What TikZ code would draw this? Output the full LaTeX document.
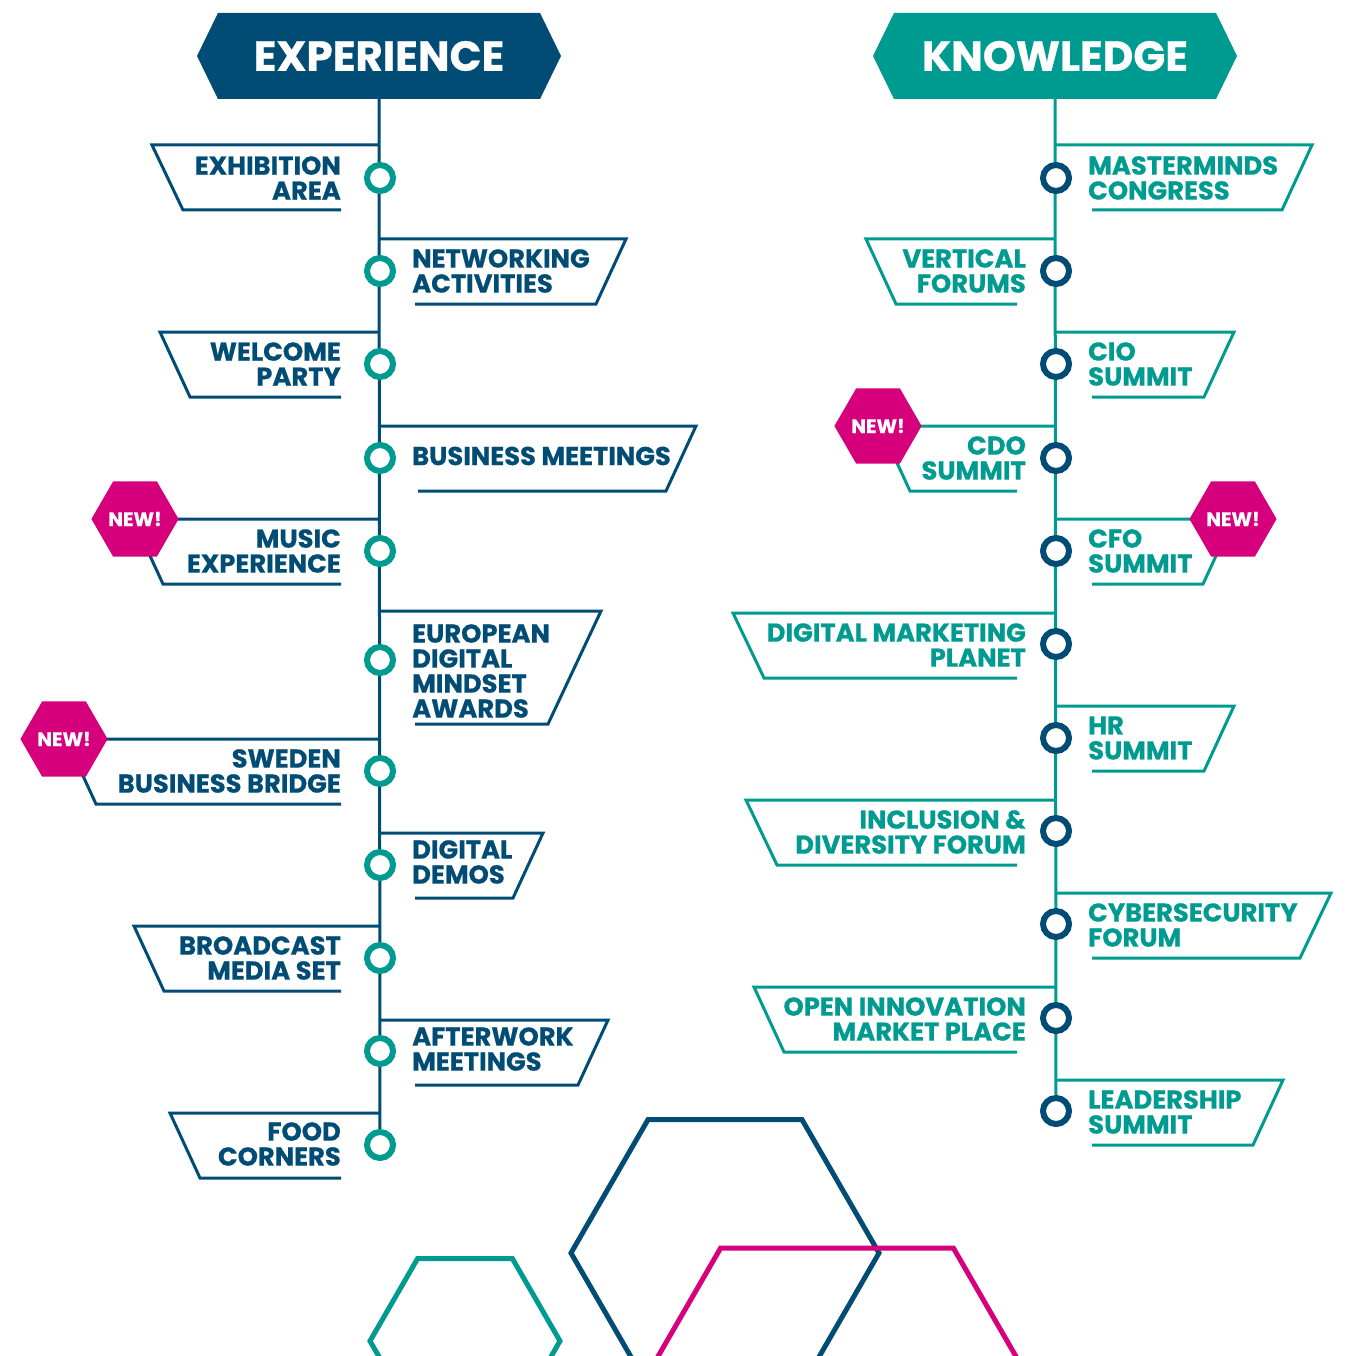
\documentclass[tikz,border=0pt]{standalone}
\usepackage{fontspec}
\setmainfont{Poppins}[BoldFeatures={FakeBold=0.6}]
\usepackage{tikz}
\usetikzlibrary{shapes.geometric,shapes.symbols,backgrounds}
\definecolor{expblue}{RGB}{0,76,117}
\definecolor{knowteal}{RGB}{0,155,144}
\definecolor{newpink}{RGB}{214,0,125}

\begin{document}
\begin{tikzpicture}[x=1pt,y=-1pt,
  head node/.style={signal,signal to=west and east,signal pointer angle=128,
    minimum width=364pt,minimum height=86pt,inner sep=0pt,text=white,
    font=\fontsize{42}{42}\selectfont\bfseries},
  exp text/.style={text=expblue,inner sep=0pt,font=\fontsize{25.8}{25}\selectfont\bfseries},
  know text/.style={text=knowteal,inner sep=0pt,font=\fontsize{25.8}{25}\selectfont\bfseries},
  exp line/.style={draw=expblue,line width=3pt},
  know line/.style={draw=knowteal,line width=3pt},
  exp dot/.style={circle,draw=knowteal,fill=white,line width=6pt,minimum size=26pt,inner sep=0pt},
  know dot/.style={circle,draw=expblue,fill=white,line width=6pt,minimum size=26pt,inner sep=0pt},
  new badge/.style={regular polygon,regular polygon sides=6,minimum size=82pt,inner sep=0pt,
    fill=newpink,text=white,font=\fontsize{19.5}{20}\selectfont\bfseries}]

  \useasboundingbox (0,0) rectangle (1345,1356);

  % headers
  \node[head node,fill=expblue] (hexp) at (379,56) {EXPERIENCE};
  \node[head node,fill=knowteal] (hknow) at (1055,56) {KNOWLEDGE};

  % experience side
  \draw[exp line] (379,145) -- (152,145) -- (183,210) -- (341,210);
  \draw[exp line] (379,239) -- (626,239) -- (596,304) -- (415,304);
  \draw[exp line] (379,332) -- (160,332) -- (190,397) -- (341,397);
  \draw[exp line] (379,426) -- (696,426) -- (666,491) -- (418,491);
  \draw[exp line] (379,519) -- (133,519) -- (163,584) -- (341,584);
  \draw[exp line] (379,611) -- (601,611) -- (548,724) -- (415,724);
  \draw[exp line] (379,739) -- (66,739) -- (96,804) -- (341,804);
  \draw[exp line] (379,833) -- (543,833) -- (513,898) -- (415,898);
  \draw[exp line] (379,926) -- (134,926) -- (164,991) -- (341,991);
  \draw[exp line] (379,1020) -- (608,1020) -- (578,1085) -- (415,1085);
  \draw[exp line] (379,1113) -- (170,1113) -- (200,1178) -- (341,1178);

  \node[exp dot] (l1) at (380,178) {};
  \node[exp dot] (l2) at (380,271) {};
  \node[exp dot] (l3) at (380,364) {};
  \node[exp dot] (l4) at (380,458) {};
  \node[exp dot] (l5) at (380,551) {};
  \node[exp dot] (l6) at (380,660) {};
  \node[exp dot] (l7) at (380,771) {};
  \node[exp dot] (l8) at (380,865) {};
  \node[exp dot] (l9) at (380,958) {};
  \node[exp dot] (l10) at (380,1051) {};
  \node[exp dot] (l11) at (380,1145) {};

  \node[exp text,anchor=east,align=right] (t1) at (341,178) {EXHIBITION\\AREA};
  \node[exp text,anchor=west,align=left] (t2) at (412,271) {NETWORKING\\ACTIVITIES};
  \node[exp text,anchor=east,align=right] (t3) at (341,364) {WELCOME\\PARTY};
  \node[exp text,anchor=west,align=left] (t4) at (412,456) {BUSINESS MEETINGS};
  \node[exp text,anchor=east,align=right] (t5) at (341,551) {MUSIC\\EXPERIENCE};
  \node[exp text,anchor=west,align=left] (t6) at (412,671) {EUROPEAN\\DIGITAL\\MINDSET\\AWARDS};
  \node[exp text,anchor=east,align=right] (t7) at (341,771) {SWEDEN\\BUSINESS BRIDGE};
  \node[exp text,anchor=west,align=left] (t8) at (412,862) {DIGITAL\\DEMOS};
  \node[exp text,anchor=east,align=right] (t9) at (341,958) {BROADCAST\\MEDIA SET};
  \node[exp text,anchor=west,align=left] (t10) at (412,1049) {AFTERWORK\\MEETINGS};
  \node[exp text,anchor=east,align=right] (t11) at (341,1144) {FOOD\\CORNERS};

  % knowledge side
  \draw[know line] (1055,145) -- (1312,145) -- (1282,210) -- (1092,210);
  \draw[know line] (1055,239) -- (866,239) -- (896,304) -- (1017,304);
  \draw[know line] (1055,332) -- (1234,332) -- (1204,397) -- (1092,397);
  \draw[know line] (1055,426) -- (880,426) -- (910,491) -- (1017,491);
  \draw[know line] (1055,519) -- (1233,519) -- (1203,584) -- (1092,584);
  \draw[know line] (1055,613) -- (733,613) -- (764,678) -- (1017,678);
  \draw[know line] (1055,706) -- (1234,706) -- (1204,771) -- (1092,771);
  \draw[know line] (1055,800) -- (746,800) -- (777,865) -- (1017,865);
  \draw[know line] (1055,893) -- (1331,893) -- (1300,958) -- (1092,958);
  \draw[know line] (1055,987) -- (754,987) -- (784,1052) -- (1017,1052);
  \draw[know line] (1055,1080) -- (1283,1080) -- (1253,1145) -- (1092,1145);

  \node[know dot] (k1) at (1056,178) {};
  \node[know dot] (k2) at (1056,271) {};
  \node[know dot] (k3) at (1056,364) {};
  \node[know dot] (k4) at (1056,458) {};
  \node[know dot] (k5) at (1056,551) {};
  \node[know dot] (k6) at (1056,644) {};
  \node[know dot] (k7) at (1056,738) {};
  \node[know dot] (k8) at (1056,831) {};
  \node[know dot] (k9) at (1056,924) {};
  \node[know dot] (k10) at (1056,1018) {};
  \node[know dot] (k11) at (1056,1111) {};

  \node[know text,anchor=west,align=left] (s1) at (1088,178) {MASTERMINDS\\CONGRESS};
  \node[know text,anchor=east,align=right] (s2) at (1026,271) {VERTICAL\\FORUMS};
  \node[know text,anchor=west,align=left] (s3) at (1088,364) {CIO\\SUMMIT};
  \node[know text,anchor=east,align=right] (s4) at (1026,458) {CDO\\SUMMIT};
  \node[know text,anchor=west,align=left] (s5) at (1088,551) {CFO\\SUMMIT};
  \node[know text,anchor=east,align=right] (s6) at (1026,645) {DIGITAL MARKETING\\PLANET};
  \node[know text,anchor=west,align=left] (s7) at (1088,738) {HR\\SUMMIT};
  \node[know text,anchor=east,align=right] (s8) at (1026,832) {INCLUSION \&\\DIVERSITY FORUM};
  \node[know text,anchor=west,align=left] (s9) at (1088,925) {CYBERSECURITY\\FORUM};
  \node[know text,anchor=east,align=right] (s10) at (1026,1019) {OPEN INNOVATION\\MARKET PLACE};
  \node[know text,anchor=west,align=left] (s11) at (1088,1112) {LEADERSHIP\\SUMMIT};

  % NEW! badges
  \node[new badge] (n1) at (135,519) {NEW!};
  \node[new badge] (n2) at (64,739) {NEW!};
  \node[new badge] (n3) at (878,426) {NEW!};
  \node[new badge] (n4) at (1233,519) {NEW!};

  % spines
  \begin{scope}[on background layer]
    \draw[exp line] (hexp.south) -- (l11.center);
    \draw[know line] (hknow.south) -- (k11.center);
  \end{scope}

  % decorative hexagons
  \begin{scope}
    \clip (0,0) rectangle (1345,1356);
    \draw[expblue,line width=5pt] (725,1253) +(0:154) -- +(60:154) -- +(120:154)
      -- +(180:154) -- +(240:154) -- +(300:154) -- cycle;
    \draw[newpink,line width=5pt] (837,1450) +(0:233) -- +(60:233) -- +(120:233)
      -- +(180:233) -- +(240:233) -- +(300:233) -- cycle;
    \draw[knowteal,line width=5pt] (465,1341) +(0:95) -- +(60:95) -- +(120:95)
      -- +(180:95) -- +(240:95) -- +(300:95) -- cycle;
  \end{scope}
\end{tikzpicture}
\end{document}
